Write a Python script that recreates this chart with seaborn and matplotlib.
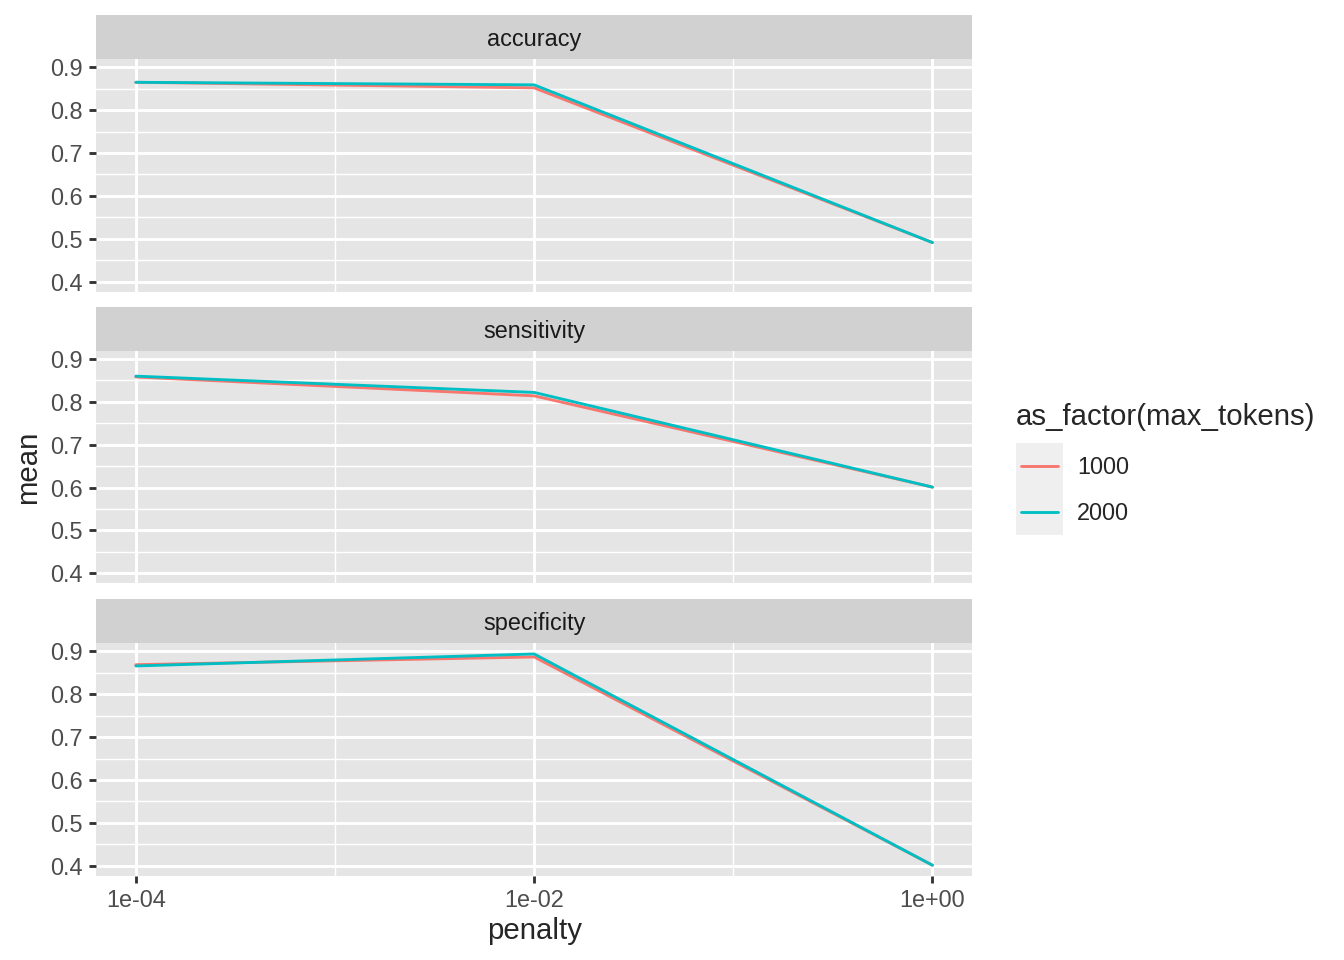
import numpy as np
import pandas as pd
import matplotlib
matplotlib.use("Agg")
import matplotlib.pyplot as plt
from matplotlib.ticker import NullFormatter
import seaborn as sns

# values
penalty = [1e-4, 1e-2, 1e0]
metrics = ["accuracy", "sensitivity", "specificity"]
tokens = ["1000", "2000"]
mean_1000 = {
    "accuracy": [0.865, 0.852, 0.491],
    "sensitivity": [0.858, 0.814, 0.601],
    "specificity": [0.869, 0.887, 0.401],
}
mean_2000 = {
    "accuracy": [0.865, 0.859, 0.491],
    "sensitivity": [0.860, 0.822, 0.601],
    "specificity": [0.866, 0.894, 0.401],
}
palette = {"1000": "#F8766D", "2000": "#00BFC4"}

rows = []
for m in metrics:
    for tok, src in [("1000", mean_1000), ("2000", mean_2000)]:
        for p, v in zip(penalty, src[m]):
            rows.append({".metric": m, "max_tokens": tok, "penalty": p, "mean": v})
df = pd.DataFrame(rows)

sns.set_theme(style="white")
plt.rcParams["font.family"] = ["Liberation Sans", "DejaVu Sans"]

fig = plt.figure(figsize=(7, 5), dpi=192)

W, H = 1344, 960
left = 96 / W
width = (972.3 - 96) / W
panel_h = 232.4 / H
strip_h = 44.3 / H
panel_tops = [59.3, 351.0, 643.4]

lo, hi = df["mean"].min(), df["mean"].max()
pad = 0.05 * (hi - lo)
ylim = (lo - pad, hi + pad)
xlim = (10 ** -4.2, 10 ** 0.2)

axes = []
for i, m in enumerate(metrics):
    top = panel_tops[i]
    ax = fig.add_axes([left, 1 - (top + 232.4) / H, width, panel_h])
    sax = fig.add_axes([left, 1 - top / H, width, strip_h])
    sax.set_facecolor("#D1D1D1")
    sax.set_xticks([]); sax.set_yticks([])
    for s in sax.spines.values():
        s.set_visible(False)
    sax.text(0.5, 0.45, m, ha="center", va="center", fontsize=8.8, color="#1A1A1A",
             transform=sax.transAxes)

    ax.set_facecolor("#E5E5E5")
    sub = df[df[".metric"] == m]
    sns.lineplot(data=sub, x="penalty", y="mean", hue="max_tokens", palette=palette,
                 hue_order=tokens, ax=ax, linewidth=1.07, legend=False, zorder=3)
    ax.set_xscale("log")
    ax.set_xlim(xlim)
    ax.set_ylim(ylim)
    ax.set_yticks([0.4, 0.5, 0.6, 0.7, 0.8, 0.9])
    ax.set_yticks(np.arange(0.45, 0.9, 0.1), minor=True)
    ax.set_xticks(penalty)
    ax.set_xticks([1e-3, 1e-1], minor=True)
    ax.xaxis.set_minor_formatter(NullFormatter())
    ax.yaxis.set_minor_formatter(NullFormatter())
    ax.grid(which="major", color="white", linewidth=1.07)
    ax.grid(which="minor", color="white", linewidth=0.53)
    ax.set_axisbelow(True)
    for s in ax.spines.values():
        s.set_visible(False)
    ax.set_yticklabels(["0.4", "0.5", "0.6", "0.7", "0.8", "0.9"])
    ax.tick_params(axis="y", which="major", length=2.75, width=1.07, color="#333333",
                   labelsize=8.8, labelcolor="#4D4D4D", pad=2.2, left=True)
    ax.tick_params(which="minor", length=0)
    ax.set_xlabel("")
    ax.set_ylabel("")
    if i < 2:
        ax.tick_params(axis="x", which="major", length=0, labelbottom=False)
    else:
        ax.set_xticklabels(["1e-04", "1e-02", "1e+00"])
        ax.tick_params(axis="x", which="major", length=2.75, width=1.07, color="#333333",
                       labelsize=8.8, labelcolor="#4D4D4D", pad=2.2, bottom=True)
    axes.append(ax)

fig.text(28 / W, 1 - 467 / H, "mean", rotation=90, ha="center", va="center", fontsize=11)
fig.text((96 + 972.3) / 2 / W, 1 - 931 / H, "penalty", ha="center", va="center", fontsize=11)

# legend
fig.text(1016 / W, 1 - 417 / H, "as_factor(max_tokens)", ha="left", va="center", fontsize=11)
kax = fig.add_axes([1016 / W, 1 - 535 / H, 47 / W, 92 / H])
kax.set_facecolor("#EFEFEF")
kax.set_xlim(0, 1); kax.set_ylim(0, 2)
kax.set_xticks([]); kax.set_yticks([])
for s in kax.spines.values():
    s.set_visible(False)
for j, tok in enumerate(tokens):
    yk = 1.5 - j
    kax.plot([0.11, 0.89], [yk, yk], color=palette[tok], linewidth=1.07)
    fig.text(1077 / W, 1 - (467 + 46 * j) / H, tok, ha="left", va="center", fontsize=8.8)

fig.savefig("out.png", dpi=192)
